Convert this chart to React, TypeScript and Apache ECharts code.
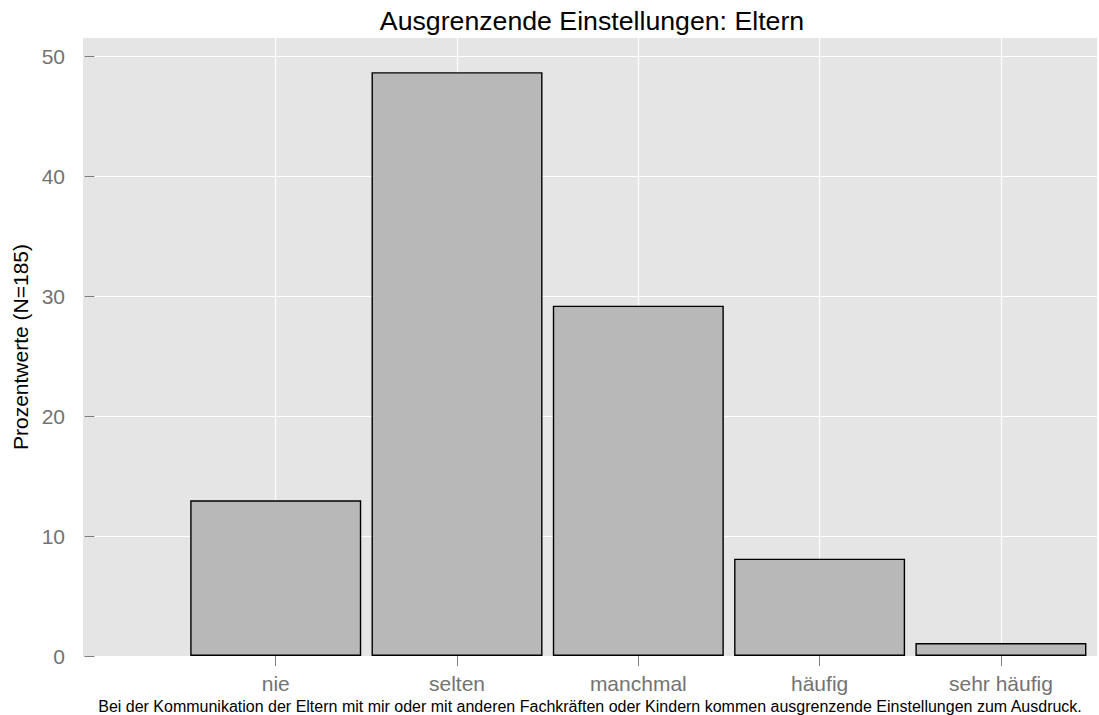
import React, { useEffect, useRef } from "react";
import * as echarts from "echarts";

const categories = ["nie", "selten", "manchmal", "häufig", "sehr häufig"];
const positions = [1, 2, 3, 4, 5];
const percents = [12.97, 48.65, 29.19, 8.11, 1.08];
const yTicks = [0, 10, 20, 30, 40, 50];

const titleText = "Ausgrenzende Einstellungen: Eltern";
const yTitle = "Prozentwerte (N=185)";
const xTitle =
  "Bei der Kommunikation der Eltern mit mir oder mit anderen Fachkräften oder Kindern kommen ausgrenzende Einstellungen zum Ausdruck.";

const FONT = "'Liberation Sans', Arial, Helvetica, sans-serif";
const TICK_GREY = "#7f7f7f";
const LABEL_GREY = "#737373";

export default function App() {
  const ref = useRef<HTMLDivElement>(null);

  useEffect(() => {
    if (!ref.current) return;
    const chart = echarts.init(ref.current, undefined, { renderer: "svg" });
    const option: any = {
      animation: false,
      backgroundColor: "#ffffff",
      textStyle: { fontFamily: FONT },
      title: {
        text: titleText,
        left: 587,
        top: 2,
        textAlign: "center",
        textStyle: { fontFamily: FONT, fontSize: 26.7, fontWeight: "normal", color: "#000000" },
      },
      grid: {
        left: 83,
        right: 2,
        top: 38,
        bottom: 59,
        show: true,
        backgroundColor: "#e5e5e5",
        borderWidth: 0,
        containLabel: false,
        outerBoundsMode: "none",
      },
      xAxis: {
        type: "value",
        min: -0.063,
        max: 5.53,
        name: xTitle,
        nameLocation: "middle",
        nameGap: 30,
        nameTextStyle: { fontFamily: FONT, fontSize: 16, color: "#000000" },
        axisLine: { show: false },
        axisTick: {
          show: true,
          length: 10,
          customValues: positions,
          lineStyle: { color: TICK_GREY, width: 1 },
        },
        axisLabel: {
          customValues: positions,
          margin: 17,
          fontFamily: FONT,
          fontSize: 21,
          color: LABEL_GREY,
          formatter: (v: number) => {
            const i = positions.indexOf(Math.round(v));
            return i >= 0 ? categories[i] : "";
          },
        },
        splitLine: { show: true, lineStyle: { color: "#ffffff", width: 1.2 } },
      },
      yAxis: {
        type: "value",
        min: 0,
        max: 51.5,
        name: yTitle,
        nameLocation: "middle",
        nameRotate: 90,
        nameGap: 50,
        nameTextStyle: { fontFamily: FONT, fontSize: 21, color: "#000000" },
        axisLine: { show: false },
        axisTick: {
          show: true,
          length: 10,
          customValues: yTicks,
          lineStyle: { color: TICK_GREY, width: 1 },
        },
        axisLabel: {
          customValues: yTicks,
          margin: 18,
          fontFamily: FONT,
          fontSize: 21,
          color: LABEL_GREY,
        },
        splitLine: { show: true, lineStyle: { color: "#ffffff", width: 1.2 } },
      },
      series: [
        {
          type: "bar",
          data: positions.map((p, i) => [p, percents[i]]),
          barWidth: 171,
          itemStyle: { color: "#b8b8b8", borderColor: "#000000", borderWidth: 1.4 },
        },
      ],
    };
    chart.setOption(option);
    return () => chart.dispose();
  }, []);

  return (
    <div
      ref={ref}
      style={{ position: "fixed", left: 0, top: 0, width: 1099, height: 715 }}
    />
  );
}
